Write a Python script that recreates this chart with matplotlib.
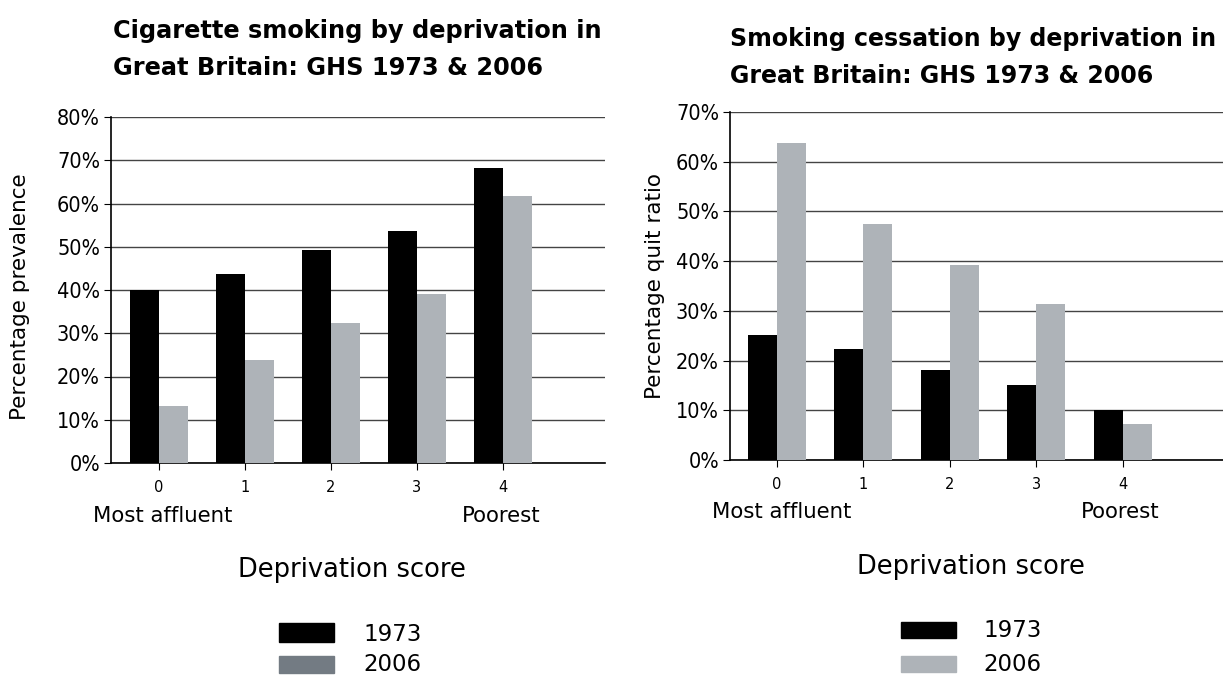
import matplotlib
matplotlib.use("Agg")
import matplotlib.pyplot as plt
from matplotlib.patches import Rectangle
import numpy as np

# data
scores = [0, 1, 2, 3, 4]
prevalence_1973 = [40.0, 43.6, 49.3, 53.7, 68.2]
prevalence_2006 = [13.1, 23.8, 32.3, 39.0, 61.8]
quit_1973 = [25.1, 22.3, 18.2, 15.0, 10.1]
quit_2006 = [63.7, 47.4, 39.2, 31.4, 7.2]
years = ["1973", "2006"]

W, H = 1223, 677
BLACK = "#000000"
GREY = "#aeb3b8"
GREY_DARK = "#737b83"

plt.rcParams["font.family"] = ["DejaVu Sans"]

fig = plt.figure(figsize=(W / 100, H / 100), dpi=100)


def fx(px):
    return px / W


def fy(py):
    return 1 - py / H


def px_axes(x0, y0, x1, y1):
    return fig.add_axes([fx(x0), fy(y1), (x1 - x0) / W, (y1 - y0) / H])


def style_axes(ax, ymax, xlim):
    ax.set_xlim(*xlim)
    ax.set_ylim(0, ymax)
    ax.set_yticks(np.arange(0, ymax + 1, 10))
    ax.set_yticklabels([f"{v}%" for v in range(0, ymax + 1, 10)],
                       fontsize=15.5, fontstretch="condensed")
    ax.set_xticks(scores)
    ax.set_xticklabels([str(s) for s in scores], fontsize=10.5)
    ax.yaxis.grid(True, color="#444444", linewidth=1.0)
    ax.set_axisbelow(True)
    for side in ["top", "right"]:
        ax.spines[side].set_visible(False)
    for side in ["left", "bottom"]:
        ax.spines[side].set_linewidth(1.2)
    ax.tick_params(axis="y", length=5, pad=3)
    ax.tick_params(axis="x", length=5, pad=7)


def legend_block(x_patch, x_text, rows, colors):
    for (y0, y1, yt), col, label in zip(rows, colors, years):
        fig.patches.append(Rectangle((fx(x_patch), fy(y1)), 55 / W, (y1 - y0) / H,
                                     transform=fig.transFigure, color=col))
        fig.text(fx(x_text), fy(yt), label, fontsize=16.5, ha="left", va="baseline")


bw = 0.335
x = np.array(scores)

# left chart
ax1 = px_axes(111, 117, 605, 463)
ax1.bar(x - bw / 2, prevalence_1973, bw, color=BLACK, zorder=3)
ax1.bar(x + bw / 2, prevalence_2006, bw, color=GREY, zorder=3)
style_axes(ax1, 80, (-0.56, 5.19))
fig.text(fx(20), fy(297), "Percentage prevalence", fontsize=15.5, rotation=90,
         ha="center", va="center")

fig.text(fx(113), fy(38), "Cigarette smoking by deprivation in",
         fontsize=17.3, fontweight="bold", ha="left", va="baseline")
fig.text(fx(113), fy(75), "Great Britain: GHS 1973 & 2006",
         fontsize=17.3, fontweight="bold", ha="left", va="baseline")
fig.text(fx(93), fy(522), "Most affluent", fontsize=15.3, ha="left", va="baseline")
fig.text(fx(462), fy(522), "Poorest", fontsize=15.3, ha="left", va="baseline")
fig.text(fx(352), fy(577), "Deprivation score", fontsize=18.5, ha="center", va="baseline")
legend_block(279, 363, [(623, 642, 641), (656, 673, 671)], [BLACK, GREY_DARK])

# right chart
ax2 = px_axes(730, 112, 1223, 460)
ax2.bar(x - bw / 2, quit_1973, bw, color=BLACK, zorder=3)
ax2.bar(x + bw / 2, quit_2006, bw, color=GREY, zorder=3)
style_axes(ax2, 70, (-0.54, 5.16))
fig.text(fx(655), fy(286), "Percentage quit ratio", fontsize=15.5, rotation=90,
         ha="center", va="center")

fig.text(fx(730), fy(46), "Smoking cessation by deprivation in",
         fontsize=17, fontweight="bold", ha="left", va="baseline")
fig.text(fx(730), fy(83), "Great Britain: GHS 1973 & 2006",
         fontsize=17, fontweight="bold", ha="left", va="baseline")
fig.text(fx(712), fy(518), "Most affluent", fontsize=15.3, ha="left", va="baseline")
fig.text(fx(1081), fy(518), "Poorest", fontsize=15.3, ha="left", va="baseline")
fig.text(fx(971), fy(574), "Deprivation score", fontsize=18.5, ha="center", va="baseline")
legend_block(901, 983, [(622, 638, 637), (656, 672, 671)], [BLACK, GREY])

fig.savefig("out.png", dpi=100)
